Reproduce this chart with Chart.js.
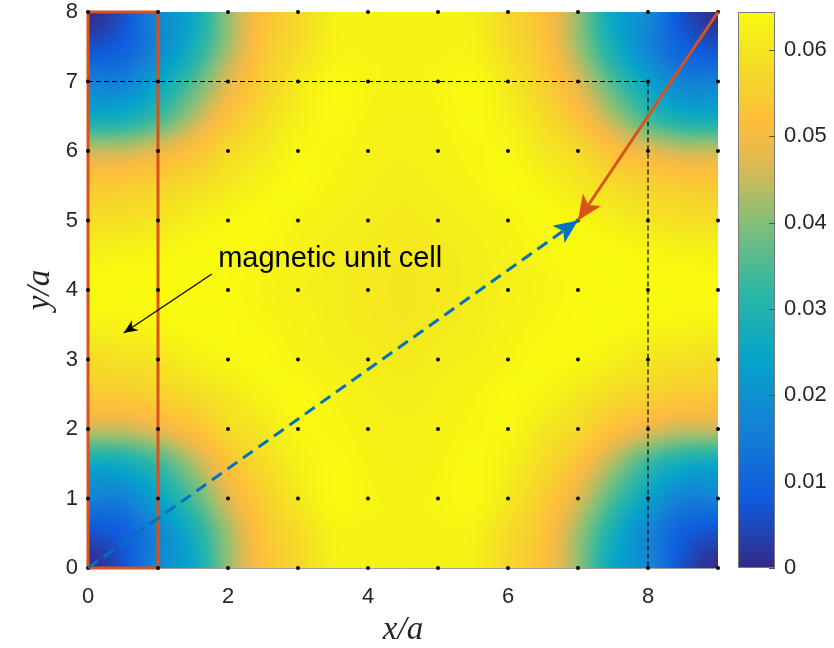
<!DOCTYPE html>
<html>
<head>
<meta charset="utf-8">
<script src="https://cdn.jsdelivr.net/npm/chart.js@4.4.1/dist/chart.umd.min.js"></script>
<style>
  html, body { margin: 0; padding: 0; background: #fff; }
</style>
</head>
<body>
<canvas id="chart" width="834" height="648"></canvas>
<script>
// sample grid of the field (units of a)
const GRID_X = [0, 0.5, 1, 1.5, 2, 2.5, 3, 3.5, 4, 4.5, 5, 5.5, 6, 6.5, 7, 7.5, 8, 8.5, 9];
const GRID_Y = [0, 0.5, 1, 1.5, 2, 2.5, 3, 3.5, 4, 4.5, 5, 5.5, 6, 6.5, 7, 7.5, 8];

// field, one row per GRID_Y (bottom first), in units of 1e-3
const FIELD_MILLI = [
  [0, 6, 18, 25, 41, 52, 57, 62, 63, 63, 63, 62, 57, 52, 41, 25, 18, 6, 0],
  [6, 9, 17, 28, 42, 53, 58, 62.5, 63, 63, 63, 62.5, 58, 53, 42, 28, 17, 9, 6],
  [16, 16, 24, 35, 47, 55, 60.5, 64, 63.2, 63, 63.2, 64, 60.5, 55, 47, 35, 24, 16, 16],
  [26, 27, 33, 43, 52, 58, 62, 64, 63, 62.5, 63, 64, 62, 58, 52, 43, 33, 27, 26],
  [45, 45, 48, 52, 57.5, 60.5, 63.5, 63.5, 62.5, 62, 62.5, 63.5, 63.5, 60.5, 57.5, 52, 48, 45, 45],
  [54, 54.5, 56, 58, 60.5, 63, 64.2, 63, 62, 61.5, 62, 63, 64.2, 63, 60.5, 58, 56, 54.5, 54],
  [58.5, 59, 60, 62, 63.5, 64.2, 63, 62, 61.5, 61, 61.5, 62, 63, 64.2, 63.5, 62, 60, 59, 58.5],
  [62.5, 63, 63.5, 64.2, 64.2, 63.5, 62.5, 61.5, 61, 60.5, 61, 61.5, 62.5, 63.5, 64.2, 64.2, 63.5, 63, 62.5],
  [64.3, 64.3, 64.3, 64.2, 64, 63, 62, 61.5, 60.8, 60.3, 60.8, 61.5, 62, 63, 64, 64.2, 64.3, 64.3, 64.3],
  [62.5, 63, 63.5, 64.2, 64.2, 63.5, 62.5, 61.5, 61, 60.5, 61, 61.5, 62.5, 63.5, 64.2, 64.2, 63.5, 63, 62.5],
  [58.5, 59, 60, 62, 63.5, 64.2, 63, 62, 61.5, 61, 61.5, 62, 63, 64.2, 63.5, 62, 60, 59, 58.5],
  [54, 54.5, 56, 58, 60.5, 63, 64.2, 63, 62, 61.5, 62, 63, 64.2, 63, 60.5, 58, 56, 54.5, 54],
  [45, 45, 48, 52, 57.5, 60.5, 63.5, 63.5, 62.5, 62, 62.5, 63.5, 63.5, 60.5, 57.5, 52, 48, 45, 45],
  [26, 27, 33, 43, 52, 58, 62, 64, 63, 62.5, 63, 64, 62, 58, 52, 43, 33, 27, 26],
  [16, 16, 24, 35, 47, 55, 60.5, 64, 63.2, 63, 63.2, 64, 60.5, 55, 47, 35, 24, 16, 16],
  [6, 9, 17, 28, 42, 53, 58, 62.5, 63, 63, 63, 62.5, 58, 53, 42, 28, 17, 9, 6],
  [0, 6, 18, 25, 41, 52, 57, 62, 63, 63, 63, 62, 57, 52, 41, 25, 18, 6, 0],
];
const FIELD_SCALE = 1e-3;

// lattice sites
const LATTICE_X = [0, 1, 2, 3, 4, 5, 6, 7, 8, 9];
const LATTICE_Y = [0, 1, 2, 3, 4, 5, 6, 7, 8];

const X_TICKS = [0, 2, 4, 6, 8];
const Y_TICKS = [0, 1, 2, 3, 4, 5, 6, 7, 8];
const CB_TICKS = [0, 0.01, 0.02, 0.03, 0.04, 0.05, 0.06];
const CB_MAX = 0.0644;

// overlays
const UNIT_CELL = [{x: 0, y: 0}, {x: 1, y: 0}, {x: 1, y: 8}, {x: 0, y: 8}, {x: 0, y: 0}];
const SUPERCELL_EDGE = [{x: 0, y: 7}, {x: 8, y: 7}, {x: 8, y: 0}];
const ORANGE_ARROW = [{x: 9, y: 8}, {x: 7, y: 5}];
const BLUE_ARROW = [{x: 0, y: 0}, {x: 7, y: 5}];
const NOTE_TEXT = 'magnetic unit cell';
const NOTE_TEXT_AT = {x: 1.86, y: 4.33};
const NOTE_ARROW = [{x: 1.77, y: 4.23}, {x: 0.51, y: 3.38}];

const ORANGE = '#D95319';
const BLUE = '#0072BD';
const TEXT = '#262626';

// parula approximation: [position, r, g, b]
const PARULA = [
  [0, 53, 42, 135], [0.125, 15, 92, 221], [0.25, 20, 129, 214], [0.375, 6, 164, 202],
  [0.5, 46, 183, 164], [0.625, 135, 191, 119], [0.7, 200, 187, 92], [0.75, 236, 186, 74],
  [0.8, 253, 190, 60], [0.875, 247, 212, 44], [0.94, 244, 232, 30], [1, 249, 251, 14],
];

function parula(t) {
  t = Math.min(1, Math.max(0, t));
  let i = 0;
  while (i < PARULA.length - 2 && t > PARULA[i + 1][0]) i++;
  const a = PARULA[i], b = PARULA[i + 1];
  const f = (t - a[0]) / (b[0] - a[0]);
  return [a[1] + (b[1] - a[1]) * f, a[2] + (b[2] - a[2]) * f, a[3] + (b[3] - a[3]) * f];
}

function cubic(p0, p1, p2, p3, t) {
  return p1 + 0.5 * t * (p2 - p0 + t * (2 * p0 - 5 * p1 + 4 * p2 - p3 + t * (3 * (p1 - p2) + p3 - p0)));
}

function fieldAt(vx, vy) {
  const dx = GRID_X[1] - GRID_X[0], dy = GRID_Y[1] - GRID_Y[0];
  const nx = GRID_X.length, ny = GRID_Y.length;
  const fx = Math.min(nx - 1, Math.max(0, (vx - GRID_X[0]) / dx));
  const fy = Math.min(ny - 1, Math.max(0, (vy - GRID_Y[0]) / dy));
  const i = Math.min(nx - 2, Math.floor(fx)), j = Math.min(ny - 2, Math.floor(fy));
  const tx = fx - i, ty = fy - j;
  const cx = k => Math.min(nx - 1, Math.max(0, k));
  const cy = k => Math.min(ny - 1, Math.max(0, k));
  const rows = [];
  for (let m = -1; m <= 2; m++) {
    const r = FIELD_MILLI[cy(j + m)];
    rows.push(cubic(r[cx(i - 1)], r[cx(i)], r[cx(i + 1)], r[cx(i + 2)], tx));
  }
  return cubic(rows[0], rows[1], rows[2], rows[3], ty) * FIELD_SCALE;
}

const heatmapPlugin = {
  id: 'heatmap',
  beforeDatasetsDraw(chart) {
    const {ctx, chartArea: a, scales: {x, y}} = chart;
    const w = Math.round(a.right - a.left), h = Math.round(a.bottom - a.top);
    const off = document.createElement('canvas');
    off.width = w; off.height = h;
    const octx = off.getContext('2d');
    const img = octx.createImageData(w, h);
    for (let py = 0; py < h; py++) {
      const vy = y.getValueForPixel(a.top + py + 0.5);
      for (let px = 0; px < w; px++) {
        const vx = x.getValueForPixel(a.left + px + 0.5);
        const c = parula(fieldAt(vx, vy) / CB_MAX);
        const k = (py * w + px) * 4;
        img.data[k] = c[0]; img.data[k + 1] = c[1]; img.data[k + 2] = c[2]; img.data[k + 3] = 255;
      }
    }
    octx.putImageData(img, 0, 0);
    ctx.drawImage(off, a.left, a.top);
  },
};

function drawHead(ctx, p0, p1, len, half, back, color) {
  const ang = Math.atan2(p1.y - p0.y, p1.x - p0.x);
  ctx.save();
  ctx.translate(p1.x, p1.y);
  ctx.rotate(ang);
  ctx.beginPath();
  ctx.moveTo(0, 0);
  ctx.lineTo(-len, -half);
  ctx.lineTo(-len * back, 0);
  ctx.lineTo(-len, half);
  ctx.closePath();
  ctx.fillStyle = color;
  ctx.fill();
  ctx.restore();
}

const overlayPlugin = {
  id: 'overlay',
  afterDatasetsDraw(chart) {
    const {ctx, scales: {x, y}} = chart;
    const px = p => ({x: x.getPixelForValue(p.x), y: y.getPixelForValue(p.y)});

    drawHead(ctx, px(ORANGE_ARROW[0]), px(ORANGE_ARROW[1]), 25, 11, 0.75, ORANGE);
    drawHead(ctx, px(BLUE_ARROW[0]), px(BLUE_ARROW[1]), 24, 10.5, 0.75, BLUE);

    // annotation
    const a0 = px(NOTE_ARROW[0]), a1 = px(NOTE_ARROW[1]);
    ctx.save();
    ctx.strokeStyle = '#000';
    ctx.lineWidth = 1.2;
    ctx.beginPath();
    ctx.moveTo(a0.x, a0.y);
    ctx.lineTo(a1.x, a1.y);
    ctx.stroke();
    drawHead(ctx, a0, a1, 14, 6, 0.7, '#000');
    const t = px(NOTE_TEXT_AT);
    ctx.fillStyle = '#000';
    ctx.font = '29px "Liberation Sans", Arial, sans-serif';
    ctx.textBaseline = 'alphabetic';
    ctx.textAlign = 'left';
    ctx.fillText(NOTE_TEXT, t.x, t.y);
    ctx.restore();
  },
  afterDraw(chart) {
    // colour bar
    const {ctx} = chart;
    const cb = chart.scales.cb;
    const x0 = cb.left + 20, x1 = cb.left + 57;
    for (let py = Math.round(cb.top); py < Math.round(cb.bottom); py++) {
      const c = parula(cb.getValueForPixel(py + 0.5) / CB_MAX);
      ctx.fillStyle = `rgb(${c[0] | 0},${c[1] | 0},${c[2] | 0})`;
      ctx.fillRect(x0, py, x1 - x0, 1);
    }
    ctx.save();
    ctx.strokeStyle = '#7a7a7a';
    ctx.lineWidth = 1;
    ctx.strokeRect(x0 + 0.5, Math.round(cb.top) + 0.5, x1 - x0 - 1, Math.round(cb.bottom - cb.top) - 1);
    ctx.strokeStyle = '#555';
    CB_TICKS.forEach(v => {
      const yy = Math.round(cb.getPixelForValue(v)) + 0.5;
      ctx.beginPath();
      ctx.moveTo(x1 - 6, yy);
      ctx.lineTo(x1, yy);
      ctx.stroke();
    });
    ctx.restore();
  },
};

Chart.defaults.font.family = '"Liberation Sans", Arial, sans-serif';
Chart.defaults.font.size = 22;
Chart.defaults.color = TEXT;

const latticePoints = [];
LATTICE_Y.forEach(yy => LATTICE_X.forEach(xx => latticePoints.push({x: xx, y: yy})));

const titleFont = {family: '"Liberation Serif", "Times New Roman", serif', style: 'italic', size: 33};

function noPadding(s) {
  s.paddingTop = 0; s.paddingBottom = 0; s.paddingLeft = 0; s.paddingRight = 0;
}

new Chart(document.getElementById('chart'), {
  type: 'scatter',
  data: {
    datasets: [
      { label: 'orange arrow', type: 'line', data: ORANGE_ARROW, borderColor: ORANGE, borderWidth: 3,
        pointRadius: 0, fill: false, clip: false, order: 0 },
      { label: 'blue arrow', type: 'line', data: BLUE_ARROW, borderColor: BLUE, borderWidth: 3,
        borderDash: [12, 7], pointRadius: 0, fill: false, clip: false, order: 1 },
      { label: 'lattice', data: latticePoints, backgroundColor: '#000', borderColor: '#000',
        pointRadius: 2, borderWidth: 0, clip: false, order: 2 },
      { label: 'unit cell', type: 'line', data: UNIT_CELL, borderColor: ORANGE, borderWidth: 3,
        pointRadius: 0, fill: false, clip: false, order: 3 },
      { label: 'supercell', type: 'line', data: SUPERCELL_EDGE, borderColor: '#000', borderWidth: 1.2,
        borderDash: [5, 3], pointRadius: 0, fill: false, clip: false, order: 4 },
    ],
  },
  options: {
    responsive: false,
    animation: false,
    layout: { padding: { top: 12, right: 0, bottom: 0, left: 0 } },
    plugins: { legend: { display: false }, tooltip: { enabled: false } },
    scales: {
      x: {
        type: 'linear', min: 0, max: 9, z: 1,
        afterBuildTicks: s => { s.ticks = X_TICKS.map(v => ({value: v})); },
        afterFit: s => { s.height = 80; noPadding(s); },
        grid: { display: false, drawTicks: false },
        border: { display: true, color: '#a0a0a0', width: 1 },
        ticks: { padding: 16, color: TEXT },
        title: { display: true, text: 'x/a', font: titleFont, color: TEXT, padding: { top: 0, bottom: -2 } },
      },
      y: {
        type: 'linear', min: 0, max: 8,
        afterBuildTicks: s => { s.ticks = Y_TICKS.map(v => ({value: v})); },
        afterFit: s => { s.width = 88; noPadding(s); },
        grid: { display: false, drawTicks: false },
        border: { display: false },
        ticks: { padding: 10, color: TEXT },
        title: { display: true, text: 'y/a', font: titleFont, color: TEXT, padding: { top: 21, bottom: 0 } },
      },
      cb: {
        type: 'linear', position: 'right', min: 0, max: CB_MAX,
        afterBuildTicks: s => { s.ticks = CB_TICKS.map(v => ({value: v})); },
        afterFit: s => { s.width = 116; noPadding(s); },
        grid: { display: false, drawTicks: false },
        border: { display: false },
        ticks: { padding: 66, color: TEXT, callback: v => (v === 0 ? '0' : v.toFixed(2)) },
      },
    },
  },
  plugins: [heatmapPlugin, overlayPlugin],
});
</script>
</body>
</html>
